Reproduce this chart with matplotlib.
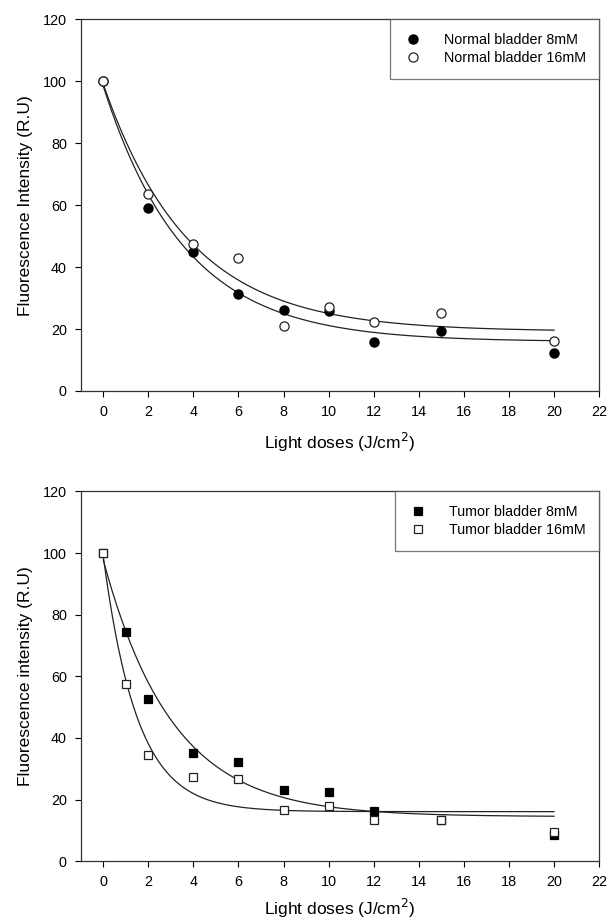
import matplotlib
matplotlib.use("Agg")
import matplotlib.pyplot as plt
import numpy as np

plt.rcParams['font.family'] = ['Liberation Sans', 'DejaVu Sans']

# Light doses (J/cm^2)
normal_dose = [0, 2, 4, 6, 8, 10, 12, 15, 20]
normal_8mM = [100, 59.2, 44.9, 31.4, 26.1, 25.9, 15.9, 19.5, 12.2]
normal_16mM = [100, 63.6, 47.3, 42.8, 21.1, 27.1, 22.1, 25.3, 16.2]

tumor_dose = [0, 1, 2, 4, 6, 8, 10, 12, 15, 20]
tumor_8mM = [100, 74.4, 52.7, 35.0, 32.2, 23.0, 22.4, 16.3, 13.3, 8.5]
tumor_16mM = [100, 57.6, 34.4, 27.3, 26.8, 16.5, 17.8, 13.3, 13.3, 9.3]

x_ticks = list(range(0, 23, 2))
y_ticks = list(range(0, 121, 20))


# Three parameter exponential decay fit: y = y0 + a*exp(-b*x)
# b is found by a simple scan, y0 and a by linear least squares
def fitDecay(x, y):
    x = np.asarray(x, float)
    y = np.asarray(y, float)
    best = None
    for b in np.linspace(0.01, 3.0, 3000):
        A = np.column_stack([np.ones_like(x), np.exp(-b * x)])
        coef, res, _, _ = np.linalg.lstsq(A, y, rcond=None)
        err = np.sum((A @ coef - y) ** 2)
        if best is None or err < best[0]:
            best = (err, coef[0], coef[1], b)
    _, y0, a, b = best
    return lambda t: y0 + a * np.exp(-b * t)


def styleAxes(ax, ylabel, xpad):
    ax.set_xlim(-1, 22)
    ax.set_ylim(0, 120)
    ax.set_xticks(x_ticks)
    ax.set_yticks(y_ticks)
    ax.tick_params(direction='out', length=4, width=0.8, labelsize=10.4, pad=6)
    for s in ax.spines.values():
        s.set_linewidth(0.9)
        s.set_color('#333333')
    ax.set_ylabel(ylabel, fontsize=12.5, labelpad=7)
    ax.set_xlabel('Light doses (J/cm$^2$)', fontsize=12.5, labelpad=xpad)
    leg = ax.legend(loc='upper right', borderaxespad=0, fancybox=False,
                    edgecolor='#555555', fontsize=10.3, handletextpad=1.5,
                    borderpad=0.95, labelspacing=0.3, handlelength=1.3)
    leg.get_frame().set_linewidth(0.9)


fig = plt.figure(figsize=(6.07, 9.22), dpi=100)
ax1 = fig.add_axes([0.133, 0.576, 0.854, 0.403])
ax2 = fig.add_axes([0.133, 0.066, 0.854, 0.401])

xs = np.linspace(0, 20, 300)

# Normal bladder
for y in [normal_8mM, normal_16mM]:
    f = fitDecay(normal_dose, y)
    ax1.plot(xs, f(xs), color='#222222', lw=0.9, zorder=2)
ax1.plot(normal_dose, normal_8mM, 'o', ms=6.6, mfc='black', mec='black',
         mew=0.9, label='Normal bladder 8mM', zorder=3)
ax1.plot(normal_dose, normal_16mM, 'o', ms=6.6, mfc='white', mec='#222222',
         mew=0.9, label='Normal bladder 16mM', zorder=4)
styleAxes(ax1, 'Fluorescence Intensity (R.U)', 9)

# Tumor bladder
for y in [tumor_8mM, tumor_16mM]:
    f = fitDecay(tumor_dose, y)
    ax2.plot(xs, f(xs), color='#222222', lw=0.9, zorder=2)
ax2.plot(tumor_dose, tumor_8mM, 's', ms=6.3, mfc='black', mec='black',
         mew=0.9, label='Tumor bladder 8mM', zorder=3)
ax2.plot(tumor_dose, tumor_16mM, 's', ms=6.3, mfc='white', mec='#222222',
         mew=0.9, label='Tumor bladder 16mM', zorder=4)
styleAxes(ax2, 'Fluorescence intensity (R.U)', 6)

fig.savefig('out.png', dpi=100)
